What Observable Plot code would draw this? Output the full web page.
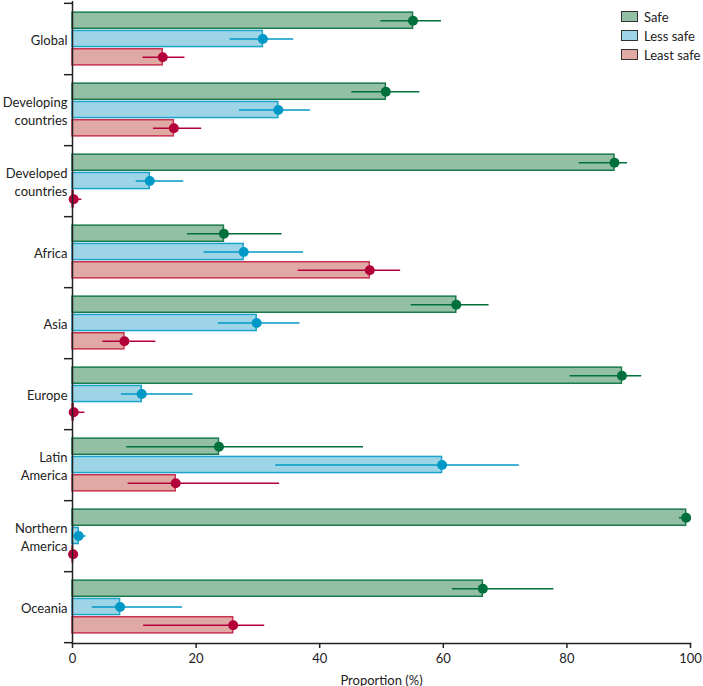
<!DOCTYPE html>
<html>
<head>
<meta charset="utf-8">
<script src="https://cdn.jsdelivr.net/npm/d3@7"></script>
<script src="https://cdn.jsdelivr.net/npm/@observablehq/plot@0.6"></script>
<style>
  html, body { margin: 0; padding: 0; background: #fff; }
  #wrap { position: relative; width: 703px; height: 686px; font-family: Lato, "Noto Sans", sans-serif; }
  #legend { position: absolute; left: 621px; top: 7px; font-size: 13px; color: #222; white-space: nowrap; }
  #legend .row { display: flex; align-items: center; height: 19px; }
  #legend .sw { width: 15px; height: 9px; border: 1.5px solid #333; margin-right: 6px; flex: none; }
</style>
</head>
<body>
<div id="wrap"><div id="legend"></div></div>
<script>
// ---- data ----
const regions = ["Global", "Developing countries", "Developed countries", "Africa", "Asia", "Europe", "Latin America", "Northern America", "Oceania"];
const regionLabels = ["Global", "Developing\ncountries", "Developed\ncountries", "Africa", "Asia", "Europe", "Latin\nAmerica", "Northern\nAmerica", "Oceania"];
const series = ["Safe", "Less safe", "Least safe"];

const safe    = [55.1, 50.7, 87.7, 24.5, 62.1, 88.9, 23.7, 99.3, 66.4];
const safeLo  = [49.9, 45.2, 82.0, 18.6, 54.8, 80.5,  8.8, 98.2, 61.5];
const safeHi  = [59.7, 56.2, 89.8, 33.9, 67.4, 92.1, 47.1, 99.9, 77.9];
const less    = [30.8, 33.3, 12.5, 27.7, 29.8, 11.2, 59.8,  1.0,  7.7];
const lessLo  = [25.5, 27.0, 10.3, 21.3, 23.6,  7.9, 32.9,  0.2,  3.2];
const lessHi  = [35.8, 38.5, 18.0, 37.4, 36.8, 19.5, 72.3,  2.2, 17.8];
const least   = [14.6, 16.4,  0.2, 48.1,  8.4,  0.2, 16.7,  0.1, 26.0];
const leastLo = [11.4, 13.1,  0.0, 36.5,  4.9,  0.0,  9.0,  0.0, 11.5];
const leastHi = [18.2, 20.9,  1.5, 53.1, 13.5,  2.0, 33.5,  0.3, 31.1];

const xTicks = [0, 20, 40, 60, 80, 100];

// ---- styles ----
const fills   = {"Safe": "#93bfa5", "Less safe": "#9dd5e7", "Least safe": "#e0a9a4"};
const strokes = {"Safe": "#1b7a4d", "Less safe": "#1ba3cc", "Least safe": "#c8314f"};
const dots    = {"Safe": "#00703c", "Less safe": "#0098c6", "Least safe": "#b3003b"};

const vals = {"Safe": [safe, safeLo, safeHi], "Less safe": [less, lessLo, lessHi], "Least safe": [least, leastLo, leastHi]};
const table = series.flatMap(s => regions.map((r, i) => ({
  region: r, series: s, value: vals[s][0][i], lo: vals[s][1][i], hi: vals[s][2][i]
})));

// ---- layout ----
const W = 703, H = 686, mL = 72, mR = 13, mT = 1, mB = 43;
const bw = (H - mT - mB) / regions.length;
const sub = d3.scaleBand().domain(series).range([0, bw]).paddingInner(0.1).paddingOuter(0.5).align(0.5);

const marks = [];
for (const s of series) {
  const d = table.filter(t => t.series === s);
  const top = sub(s), bot = bw - sub(s) - sub.bandwidth();
  const off = sub(s) + sub.bandwidth() / 2 - bw / 2;
  marks.push(Plot.barX(d, {y: "region", x1: 0, x2: "value", fill: fills[s], stroke: strokes[s], strokeWidth: 1.5, insetTop: top, insetBottom: bot}));
  marks.push(Plot.ruleY(d, {y: "region", x1: "lo", x2: "hi", stroke: dots[s], strokeWidth: 1.5, dy: off}));
  marks.push(Plot.dot(d, {y: "region", x: "value", r: 5, fill: dots[s], dy: off}));
}

const labelMap = Object.fromEntries(regions.map((r, i) => [r, regionLabels[i]]));

const chart = Plot.plot({
  width: W, height: H,
  marginLeft: mL, marginRight: mR, marginTop: mT, marginBottom: mB,
  style: {fontFamily: "Lato, 'Noto Sans', sans-serif", fontSize: "13px", color: "#222", background: "#fff"},
  x: {domain: [0, 100]},
  y: {domain: regions, padding: 0},
  marks: [
    ...marks,
    Plot.ruleX([0], {stroke: "#222", strokeWidth: 1.5}),
    Plot.frame({anchor: "bottom", stroke: "#222", strokeWidth: 1.5}),
    Plot.axisY({tickSize: 8, tickFormat: () => "", dy: bw / 2, stroke: "#222", strokeWidth: 1.5, label: null}),
    Plot.axisY({ticks: [regions[0]], tickSize: 8, tickFormat: () => "", dy: -bw / 2, stroke: "#222", strokeWidth: 1.5, label: null}),
    Plot.text(regions, {y: d => d, text: d => labelMap[d], frameAnchor: "left", dx: -5, textAnchor: "end", lineHeight: 1.45, fill: "#222"}),
    Plot.axisX({ticks: xTicks, tickSize: 5, tickPadding: 5, strokeWidth: 1.5, label: "Proportion (%)", labelAnchor: "center", labelArrow: "none", labelOffset: 41})
  ]
});
document.getElementById("wrap").prepend(chart);

const leg = document.getElementById("legend");
for (const s of series) {
  const row = document.createElement("div");
  row.className = "row";
  const sw = document.createElement("div");
  sw.className = "sw";
  sw.style.background = fills[s];
  const t = document.createElement("span");
  t.textContent = s;
  row.append(sw, t);
  leg.append(row);
}
</script>
</body>
</html>
